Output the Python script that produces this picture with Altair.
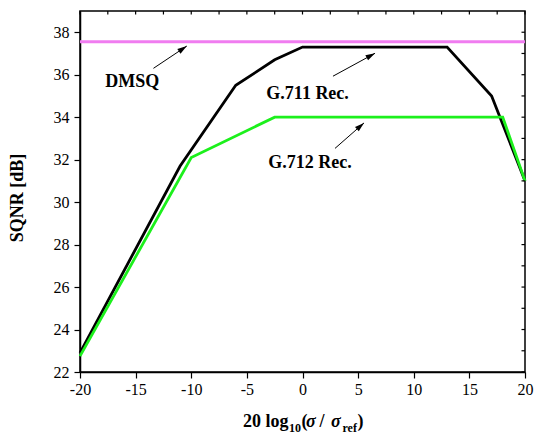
import math
import altair as alt
import pandas as pd

# ---- data ----
x_g711 = [-20, -11, -6, -2.5, 0, 13, 17, 20]
y_g711 = [22.9, 31.7, 35.5, 36.7, 37.3, 37.3, 35.0, 31.0]
x_g712 = [-20, -10, -2.5, 18, 20]
y_g712 = [22.75, 32.1, 34.0, 34.0, 31.0]
x_dmsq = [-20, 20]
y_dmsq = [37.55, 37.55]

label_text = ["DMSQ", "G.711 Rec.", "G.712 Rec."]
label_x = [-15.3, 0.46, 0.67]
label_y = [35.65, 35.1, 31.85]

arrow_x1 = [-13.4, 2.74, 2.92]
arrow_y1 = [36.3, 35.93, 32.53]
arrow_x2 = [-10.4, 6.52, 5.53]
arrow_y2 = [37.35, 37.01, 33.73]

x_ticks = [-20, -17.5, -15, -12.5, -10, -7.5, -5, -2.5, 0, 2.5, 5, 7.5, 10, 12.5, 15, 17.5, 20]
y_ticks = list(range(22, 39))

W, H = 445, 361
XD = [-20, 20]
YD = [22, 39]
FONT = "'Liberation Serif', 'Times New Roman', serif"

xs = alt.Scale(domain=XD, nice=False, zero=False)
ys = alt.Scale(domain=YD, nice=False, zero=False)

x_axis = alt.Axis(
    values=x_ticks,
    labelExpr="datum.value % 5 == 0 ? toString(datum.value) : ''",
    tickSize=alt.condition("datum.value % 5 != 0", alt.value(3.5), alt.value(6)),
    grid=False, labelPadding=3, labelFont=FONT, labelFontSize=16, labelColor="black",
    domainColor="black", domainWidth=1.5, tickColor="black", tickWidth=1.2,
    labelFlush=False,
)
y_axis = alt.Axis(
    values=y_ticks,
    labelExpr="datum.value % 2 == 0 ? toString(datum.value) : ''",
    tickSize=alt.condition("datum.value % 2 == 1", alt.value(3.5), alt.value(6)),
    grid=False, labelPadding=5, labelFont=FONT, labelFontSize=16, labelColor="black",
    domainColor="black", domainWidth=1.5, tickColor="black", tickWidth=1.2,
    labelFlush=False,
)

g711 = pd.DataFrame({"x": x_g711, "y": y_g711})
g712 = pd.DataFrame({"x": x_g712, "y": y_g712})
dmsq = pd.DataFrame({"x": x_dmsq, "y": y_dmsq})

px_x = W / (XD[1] - XD[0])
px_y = H / (YD[1] - YD[0])
angles = [
    math.degrees(math.atan2((x2 - x1) * px_x, (y2 - y1) * px_y))
    for x1, y1, x2, y2 in zip(arrow_x1, arrow_y1, arrow_x2, arrow_y2)
]
arrows = pd.DataFrame({"x1": arrow_x1, "y1": arrow_y1, "x2": arrow_x2, "y2": arrow_y2, "angle": angles})
labels = pd.DataFrame({"t": label_text, "x": label_x, "y": label_y})

base_x = alt.X("x:Q", scale=xs, axis=x_axis, title=None)
base_y = alt.Y("y:Q", scale=ys, axis=y_axis, title=None)

dmsq_line = alt.Chart(dmsq).mark_line(color="#f07cf0", strokeWidth=3).encode(x=base_x, y=base_y)
g711_line = alt.Chart(g711).mark_line(color="black", strokeWidth=2.8).encode(x=base_x, y=base_y)
g712_line = alt.Chart(g712).mark_line(color="#1cf01c", strokeWidth=2.8).encode(x=base_x, y=base_y)

arrow_lines = alt.Chart(arrows).mark_rule(color="black", strokeWidth=1).encode(
    x=alt.X("x1:Q", scale=xs), y=alt.Y("y1:Q", scale=ys), x2="x2:Q", y2="y2:Q"
)
arrow_heads = alt.Chart(arrows).mark_point(
    shape="M0,0 L-0.3,1 L0.3,1 Z", filled=True, size=360, color="black", opacity=1
).encode(
    x=alt.X("x2:Q", scale=xs), y=alt.Y("y2:Q", scale=ys), angle=alt.Angle("angle:Q", scale=None)
)
label_marks = alt.Chart(labels).mark_text(
    font=FONT, fontSize=18, fontWeight="bold", color="black", baseline="middle", align="center"
).encode(x=alt.X("x:Q", scale=xs), y=alt.Y("y:Q", scale=ys), text="t:N")

top_ticks = alt.Chart(pd.DataFrame({"v": x_ticks})).mark_rule(color="black", strokeWidth=1.2).encode(
    x=alt.X("v:Q", scale=xs), y=alt.value(0), y2=alt.value(3.5)
)
right_ticks = alt.Chart(pd.DataFrame({"v": y_ticks})).mark_rule(color="black", strokeWidth=1.2).encode(
    y=alt.Y("v:Q", scale=ys), x=alt.value(W), x2=alt.value(W - 3.5)
)

one = pd.DataFrame({"d": [0]})


def txt(s, px, py, size=18, style="normal", align="left", angle=None):
    kw = dict(font=FONT, fontSize=size, fontWeight="bold", fontStyle=style, color="black",
              align=align, baseline="alphabetic", text=s)
    if angle is not None:
        kw["angle"] = angle
        kw["baseline"] = "middle"
    return alt.Chart(one).mark_text(**kw).encode(x=alt.value(px), y=alt.value(py))


MB = 416  # main baseline of x title (plot coords)
SB = 421  # subscript baseline
title_parts = [
    txt("20 log", 163, MB),
    txt("10", 209, SB, size=12),
    txt("(", 221.5, MB),
    txt("σ", 226, MB, style="italic"),
    txt("/", 239.5, MB),
    txt("σ", 251, MB, style="italic"),
    txt("ref", 262.5, SB, size=12),
    txt(")", 277.5, MB),
    txt("SQNR [dB]", -62, 187, align="center", angle=270),
]

chart = alt.layer(
    dmsq_line, g711_line, g712_line, arrow_lines, arrow_heads, label_marks,
    top_ticks, right_ticks, *title_parts
).properties(
    width=W, height=H,
    autosize=alt.AutoSizeParams(type="none"),
    padding={"left": 80, "top": 11, "right": 10, "bottom": 68},
    background="white",
).configure_view(stroke="black", strokeWidth=1.5)

chart.save("out.html", embed_options={"renderer": "svg", "actions": False})
